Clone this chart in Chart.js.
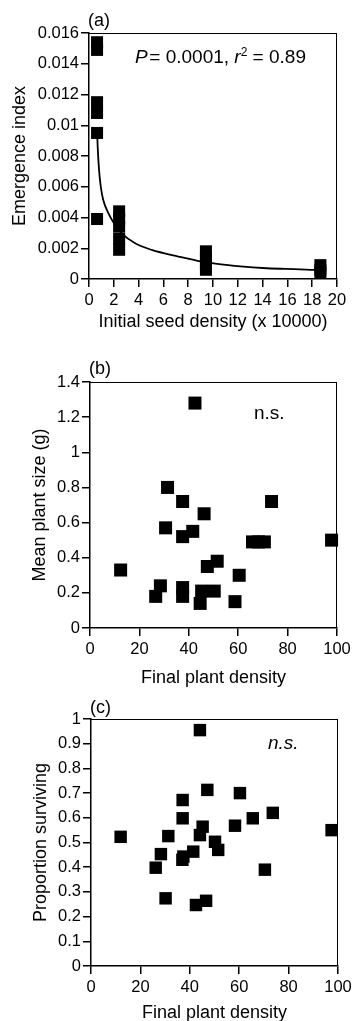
<!DOCTYPE html>
<html>
<head>
<meta charset="utf-8">
<script src="https://cdn.jsdelivr.net/npm/chart.js@4.4.1/dist/chart.umd.min.js"></script>
<style>
html,body{margin:0;padding:0;background:#fff;width:356px;height:1021px;overflow:hidden;position:relative;font-family:"Liberation Sans",Arial,Helvetica,sans-serif;color:#000;}
.panel{position:absolute;left:0;width:356px;}
canvas{display:block;}
.lbl{position:absolute;white-space:nowrap;line-height:1;color:#000;}
</style>
</head>
<body>
<div class="panel" style="top:0;height:335px"><canvas id="ca" width="356" height="335"></canvas></div>
<div class="panel" style="top:335px;height:355px"><canvas id="cb" width="356" height="355"></canvas></div>
<div class="panel" style="top:690px;height:345px"><canvas id="cc" width="356" height="345"></canvas></div>

<div class="lbl" style="left:88px;top:11px;font-size:18px">(a)</div>
<div class="lbl" style="left:135px;top:47px;font-size:19px"><i>P</i>&#8202;= 0.0001, <i>r</i><sup style="font-size:12px;vertical-align:7px;line-height:0">2</sup> = 0.89</div>
<div class="lbl" style="left:89px;top:359px;font-size:18px">(b)</div>
<div class="lbl" style="left:254px;top:403px;font-size:19px">n.s.</div>
<div class="lbl" style="left:90px;top:698px;font-size:18px">(c)</div>
<div class="lbl" style="left:268px;top:733px;font-size:19px"><i>n.s.</i></div>

<script>
// ---------- Panel (a): emergence index vs initial seed density ----------
const seedDensityA = [0.65, 0.65, 0.65, 0.65, 0.65, 0.65,
                      2.43, 2.43, 2.43, 2.43, 2.43,
                      9.43, 9.43, 9.43, 9.43,
                      18.66, 18.66, 18.66];
const emergenceA   = [0.0154, 0.0149, 0.0115, 0.0108, 0.0095, 0.0039,
                      0.0044, 0.0039, 0.0034, 0.0026, 0.0019,
                      0.0018, 0.0014, 0.0010, 0.0006,
                      0.0009, 0.0006, 0.0004];
const fitXA = [0.65, 0.70, 0.81, 0.95, 1.15, 1.56, 2.1, 2.64, 3.72, 5.06, 7.21, 9.1, 10.04, 12.2, 14.35, 17.0, 18.1, 18.6];
const fitYA = [0.0097, 0.0086, 0.0071, 0.0060, 0.00514, 0.00428, 0.00351, 0.00297, 0.00232, 0.00189, 0.00146, 0.00113, 0.00102, 0.00082, 0.0007, 0.00063, 0.00059, 0.00058];
const xTicksA = [0, 2, 4, 6, 8, 10, 12, 14, 16, 18, 20];
const xTickLabelsA = ["0", "2", "4", "6", "8", "10", "12", "14", "16", "18", "20"];
const yTicksA = [0, 0.002, 0.004, 0.006, 0.008, 0.01, 0.012, 0.014, 0.016];
const yTickLabelsA = ["0", "0.002", "0.004", "0.006", "0.008", "0.01", "0.012", "0.014", "0.016"];

// ---------- Panel (b): mean plant size vs final plant density ----------
const densityB = [42.5, 31.4, 37.5, 73.5, 46.2, 30.6, 37.5, 41.6, 65.8, 68.2, 70.6, 97.8, 12.4,
                  47.5, 51.5, 60.4, 28.5, 26.6, 37.5, 37.5, 45.2, 44.6, 50.3, 58.7];
const sizeB    = [1.28, 0.80, 0.72, 0.72, 0.65, 0.57, 0.52, 0.55, 0.49, 0.49, 0.49, 0.50, 0.33,
                  0.35, 0.38, 0.30, 0.24, 0.18, 0.23, 0.18, 0.21, 0.14, 0.21, 0.15];
const xTicksB = [0, 20, 40, 60, 80, 100];
const xTickLabelsB = ["0", "20", "40", "60", "80", "100"];
const yTicksB = [0, 0.2, 0.4, 0.6, 0.8, 1, 1.2, 1.4];
const yTickLabelsB = ["0", "0.2", "0.4", "0.6", "0.8", "1", "1.2", "1.4"];

// ---------- Panel (c): proportion surviving vs final plant density ----------
const densityC  = [44.1, 47.1, 60.3, 37.1, 37.1, 73.6, 65.5, 58.3, 45.2, 97.4, 12.0, 31.3,
                   44.1, 50.2, 51.5, 28.3, 37.4, 41.4, 37.0, 26.2, 70.4, 30.2, 42.5, 46.6];
const survivalC = [0.955, 0.713, 0.70, 0.672, 0.598, 0.62, 0.598, 0.568, 0.564, 0.55, 0.523, 0.526,
                   0.53, 0.503, 0.47, 0.453, 0.443, 0.463, 0.43, 0.398, 0.39, 0.274, 0.247, 0.264];
const xTicksC = [0, 20, 40, 60, 80, 100];
const xTickLabelsC = ["0", "20", "40", "60", "80", "100"];
const yTicksC = [0, 0.1, 0.2, 0.3, 0.4, 0.5, 0.6, 0.7, 0.8, 0.9, 1];
const yTickLabelsC = ["0", "0.1", "0.2", "0.3", "0.4", "0.5", "0.6", "0.7", "0.8", "0.9", "1"];

const FONT = '"Liberation Sans", Arial, Helvetica, sans-serif';

const framePlugin = {
  id: 'frame',
  afterDatasetsDraw(chart) {
    const {ctx, chartArea: a} = chart;
    ctx.save();
    ctx.strokeStyle = '#000';
    ctx.lineWidth = 1;
    ctx.beginPath();
    ctx.moveTo(a.left, a.top + 0.5);
    ctx.lineTo(a.right, a.top + 0.5);
    ctx.moveTo(a.right - 0.5, a.top);
    ctx.lineTo(a.right - 0.5, a.bottom);
    ctx.stroke();
    ctx.restore();
  }
};

function pts(xs, ys) { return xs.map((x, i) => ({x: x, y: ys[i]})); }

function axis(min, max, ticks, labels, titleText, fitSize, isX, titlePad) {
  return {
    type: 'linear', min: min, max: max,
    afterBuildTicks: s => { s.ticks = ticks.map(v => ({value: v})); },
    afterFit: s => { if (isX) s.height = fitSize; else s.width = fitSize; },
    ticks: {
      callback: (v, i) => labels[i],
      font: {family: FONT, size: 16.5}, color: '#000',
      padding: isX ? 4 : 2, maxRotation: 0, autoSkip: false
    },
    grid: {drawOnChartArea: false, drawTicks: true, tickLength: 8, color: '#000', lineWidth: 1.5},
    border: {display: true, color: '#000', width: 1.5},
    title: {display: true, text: titleText, color: '#000',
            font: {family: FONT, size: 18}, padding: titlePad}
  };
}

function makeChart(id, datasets, xs, ys, padding) {
  return new Chart(document.getElementById(id), {
    type: 'scatter',
    data: {datasets: datasets},
    options: {
      responsive: false, animation: false, devicePixelRatio: 1,
      layout: {padding: padding},
      plugins: {legend: {display: false}, tooltip: {enabled: false}},
      scales: {x: xs, y: ys}
    },
    plugins: [framePlugin]
  });
}

const sq = (data, r) => ({
  data: data, pointStyle: 'rect', pointRadius: r, pointBorderWidth: 0,
  backgroundColor: '#000', borderColor: '#000', showLine: false, clip: false
});

makeChart('ca', [
  {data: pts(fitXA, fitYA), showLine: true, pointRadius: 0, borderColor: '#000', borderWidth: 1.8,
   cubicInterpolationMode: 'monotone', fill: false},
  sq(pts(seedDensityA, emergenceA), 8.5)
],
  axis(0, 20, xTicksA, xTickLabelsA, 'Initial seed density (x 10000)', 56, true, {top: 0, bottom: 2}),
  axis(0, 0.016, yTicksA, yTickLabelsA, 'Emergence index', 89, false, {top: 9, bottom: 0}),
  {top: 33, right: 19, left: 0, bottom: 0});

makeChart('cb', [sq(pts(densityB, sizeB), 9.2)],
  axis(0, 100, xTicksB, xTickLabelsB, 'Final plant density', 62, true, {top: 0, bottom: 1}),
  axis(0, 1.4, yTicksB, yTickLabelsB, 'Mean plant size (g)', 90, false, {top: 29, bottom: 0}),
  {top: 47, right: 19, left: 0, bottom: 0});

makeChart('cc', [sq(pts(densityC, survivalC), 8.8)],
  axis(0, 100, xTicksC, xTickLabelsC, 'Final plant density', 69, true, {top: 0, bottom: 11}),
  axis(0, 1, yTicksC, yTickLabelsC, 'Proportion surviving', 91, false, {top: 30, bottom: 0}),
  {top: 29, right: 18, left: 0, bottom: 0});
</script>
</body>
</html>
